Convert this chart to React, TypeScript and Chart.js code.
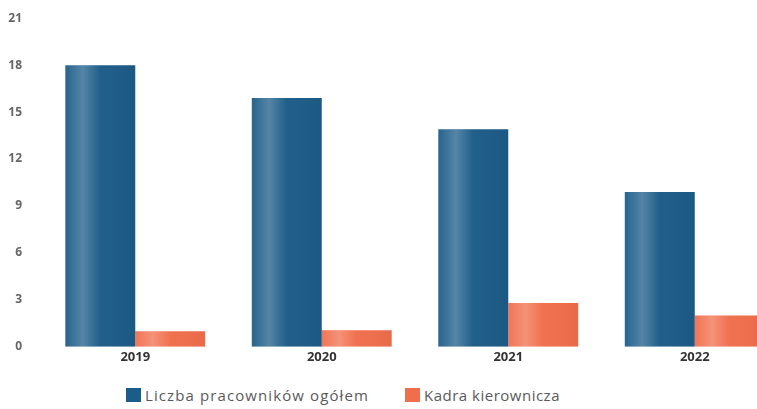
import React, { useEffect, useRef } from "react";
import { Chart, registerables } from "chart.js";

Chart.register(...registerables);

const categories = ["2019", "2020", "2021", "2022"];
const totalEmployees = [18.0, 15.9, 13.9, 9.9];
const management = [1.0, 1.05, 2.8, 2.0];
const seriesNames = ["Liczba pracowników ogółem", "Kadra kierownicza"];
const yTicks = [0, 3, 6, 9, 12, 15, 18, 21];

const BLUE = "#1c5c88";
const ORANGE = "#f06e4c";

const shadePlugin = {
  id: "shade",
  afterDatasetsDraw(chart: any) {
    const ctx = chart.ctx;
    chart.data.datasets.forEach((_: any, di: number) => {
      const meta = chart.getDatasetMeta(di);
      meta.data.forEach((bar: any) => {
        const { x, y, base, width } = bar.getProps(["x", "y", "base", "width"], true);
        const left = x - width / 2;
        const g = ctx.createLinearGradient(left, 0, left + width, 0);
        g.addColorStop(0, "rgba(255,255,255,0.05)");
        g.addColorStop(0.25, "rgba(255,255,255,0.25)");
        g.addColorStop(0.5, "rgba(255,255,255,0.02)");
        g.addColorStop(1, "rgba(0,0,0,0.04)");
        ctx.save();
        ctx.fillStyle = g;
        ctx.fillRect(left, Math.min(y, base), width, Math.abs(base - y));
        ctx.restore();
      });
    });
  },
};

export default function App() {
  const ref = useRef<HTMLCanvasElement>(null);
  useEffect(() => {
    if (!ref.current) return;
    const chart = new Chart(ref.current, {
      type: "bar",
      data: {
        labels: categories,
        datasets: [
          { label: seriesNames[0], data: totalEmployees, backgroundColor: BLUE },
          { label: seriesNames[1], data: management, backgroundColor: ORANGE },
        ],
      },
      options: {
        animation: false,
        responsive: false,
        maintainAspectRatio: false,
        layout: { padding: { left: 0, right: 2, top: 0, bottom: 0 } },
        datasets: { bar: { barPercentage: 1, categoryPercentage: 0.75 } },
        plugins: { legend: { display: false }, tooltip: { enabled: false } },
        scales: {
          x: {
            grid: { display: false, drawTicks: false },
            border: { display: false },
            afterFit: (axis: any) => {
              axis.height = 22;
            },
            ticks: {
              color: "#333",
              padding: 3,
              font: { family: "Open Sans", size: 13, weight: "bold" },
            },
          },
          y: {
            min: 0,
            max: 21,
            grid: { display: false, drawTicks: false },
            border: { display: false },
            afterFit: (axis: any) => {
              axis.width = 42;
            },
            afterBuildTicks: (axis: any) => {
              axis.ticks = yTicks.map((v) => ({ value: v }));
            },
            ticks: {
              color: "#666",
              padding: 20,
              font: { family: "Open Sans", size: 12, weight: "bold" },
            },
          },
        },
      },
      plugins: [shadePlugin],
    });
    return () => chart.destroy();
  }, []);

  const legendItem = (color: string, text: string, left: number, spacing: number) => (
    <div
      style={{
        position: "absolute",
        left,
        top: 386,
        display: "flex",
        alignItems: "center",
        fontFamily: "Open Sans",
        fontSize: 15,
        letterSpacing: spacing,
        color: "#5a5a5a",
        whiteSpace: "nowrap",
        lineHeight: "18px",
      }}
    >
      <span style={{ display: "inline-block", width: 15, height: 14, background: color, marginRight: 4 }} />
      {text}
    </div>
  );

  return (
    <div
      style={{
        position: "fixed",
        left: 0,
        top: 0,
        width: 757,
        height: 409,
        overflow: "hidden",
        background: "#fff",
      }}
    >
      <canvas ref={ref} width={790} height={383} style={{ position: "absolute", left: 0, top: -9 }} />
      {legendItem(BLUE, seriesNames[0], 126, 1.1)}
      {legendItem(ORANGE, seriesNames[1], 405, 0.5)}
    </div>
  );
}
